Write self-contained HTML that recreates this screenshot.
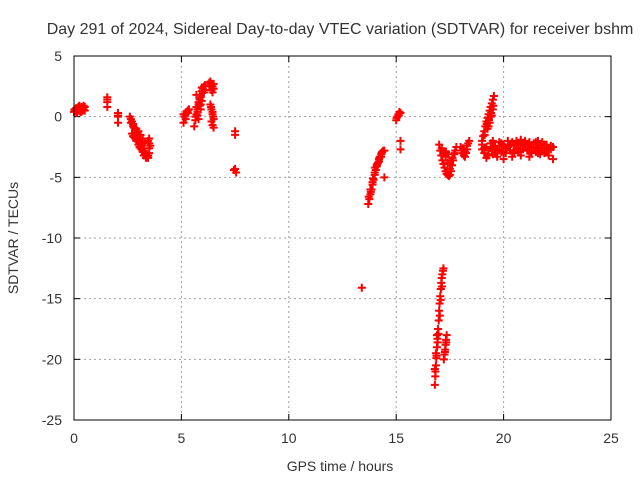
<!DOCTYPE html>
<html><head><meta charset="utf-8"><style>
body{margin:0;background:#fff;}
svg text{font-family:"Liberation Sans",sans-serif;font-size:14px;fill:#333;}
</style></head><body>
<svg id="chart" width="640" height="480">
<text x="340" y="34" text-anchor="middle" style="font-size:16px">Day 291 of 2024, Sidereal Day-to-day VTEC variation (SDTVAR) for receiver bshm</text>
<text x="340" y="471" text-anchor="middle">GPS time / hours</text>
<text x="18" y="238" text-anchor="middle" transform="rotate(-90 18 238)">SDTVAR / TECUs</text>
<g id="grid"></g><g id="ticks"></g><g id="pts"></g>
<rect x="74" y="56" width="537" height="364" fill="none" stroke="#000" stroke-width="1"/>
</svg>
<script>
const xTicks=[0,5,10,15,20,25];
const yTicks=[5,0,-5,-10,-15,-20,-25];
const seriesX=[0,0.05,0.1,0.15,0.2,0.25,0.3,0.35,0.4,0.45,0.5,0.5,0.3,0.1,0.02,0.2,0.4,0.15,0.35,0.25,0.45,
1.55,1.55,1.55,1.55,2.05,2.05,2.05,2.05,
2.6,2.65,2.7,2.75,2.8,2.85,2.9,2.95,3.0,3.05,3.1,3.15,3.2,3.25,3.3,3.35,3.4,3.45,2.7,2.8,2.9,3.0,3.1,3.2,3.3,3.4,2.9,3.0,3.1,3.2,3.3,2.75,2.85,2.95,3.05,3.15,3.25,3.35,3.45,2.65,2.75,2.85,
3.5,3.5,3.5,3.5,3.55,3.45,
5.1,5.15,5.2,5.25,5.3,5.35,5.1,5.2,5.3,
5.6,5.65,5.7,5.75,5.8,5.85,5.9,5.95,6.0,6.05,6.1,5.7,5.8,5.9,6.0,5.75,5.85,5.95,5.8,5.9,5.65,5.75,5.85,5.95,6.05,5.7,5.9,6.1,
6.3,6.35,6.4,6.45,6.4,6.45,6.5,6.35,6.4,6.45,6.5,6.4,6.45,6.5,6.45,6.3,6.4,6.5,6.38,6.48,
7.5,7.5,7.5,7.55,7.45,
13.4,
13.7,13.75,13.8,13.85,13.9,13.95,14.0,14.05,14.1,14.15,14.2,14.25,14.3,14.35,14.4,14.45,13.8,13.9,14.0,14.1,14.2,14.3,14.45,13.72,13.82,13.92,14.02,14.12,14.22,14.32,
15.0,15.05,15.1,15.15,15.2,15.2,15.2,15.02,15.12,
16.8,16.82,16.85,16.88,16.9,16.92,16.95,16.98,17.0,17.02,17.05,17.08,17.1,17.12,17.15,17.18,17.2,16.8,16.85,16.9,16.83,16.87,16.93,16.97,17.03,17.07,17.13,
17.22,17.25,17.28,17.3,17.32,17.35,17.27,17.33,
17.0,17.05,17.1,17.15,17.2,17.25,17.3,17.35,17.4,17.45,17.5,17.55,17.6,17.65,17.7,17.75,17.8,17.3,17.4,17.5,17.6,17.12,17.22,17.32,17.42,17.52,17.62,17.72,
18.0,18.05,18.1,18.15,18.2,18.25,18.3,18.35,18.4,18.3,18.1,18.2,
19.0,19.05,19.1,19.15,19.2,19.25,19.3,19.35,19.4,19.45,19.5,19.55,19.3,19.4,19.5,19.12,19.22,19.32,19.42,19.52,19.25,19.35,19.45,
19.0,19.2,19.4,19.6,19.8,20.0,20.2,20.4,20.6,20.8,21.0,21.2,21.4,21.6,21.8,22.0,22.2,22.3,
19.1,19.3,19.5,19.7,19.9,20.1,20.3,20.5,20.7,20.9,21.1,21.3,21.5,21.7,21.9,22.1,22.3,
19.0,19.4,19.8,20.2,20.6,21.0,21.4,21.8,22.2,20.0,20.4,20.8,21.2,21.6,
19.1,19.3,19.5,19.7,19.9,20.1,20.3,20.5,20.7,20.9,21.1,21.3,21.5,21.7,21.9,22.1,
19.2,19.6,20.0,20.4,20.8,21.2,21.6,22.0,19.5,19.9,20.3,20.7,21.1,21.5,21.9,22.2];
const seriesY=[0.4,0.5,0.4,0.6,0.5,0.7,0.6,0.8,0.7,0.9,0.8,0.5,0.4,0.7,0.6,0.8,0.5,0.3,0.4,0.9,0.6,
1.6,1.2,0.8,1.4,0.3,0.0,-0.5,0.1,
0.0,-0.2,-0.4,-0.6,-0.9,-1.1,-1.3,-1.6,-1.8,-2.0,-2.2,-2.4,-2.6,-2.8,-3.0,-3.1,-3.3,-3.4,-1.4,-1.7,-2.0,-2.3,-2.6,-2.9,-3.1,-3.3,-1.0,-1.2,-1.5,-1.8,-2.1,-0.8,-1.0,-1.9,-2.5,-2.7,-3.2,-3.4,-3.2,-0.5,-1.6,-1.8,
-1.8,-2.2,-2.6,-3.0,-2.4,-2.0,
-0.5,0.0,0.2,0.4,0.5,0.6,0.2,-0.2,0.3,
-0.8,-0.3,0.2,0.6,1.0,1.4,1.8,2.1,2.3,2.5,2.6,0.8,1.2,1.6,2.0,0.4,0.9,1.3,-0.2,0.6,0.0,0.1,1.6,2.4,2.0,1.8,1.0,2.2,
2.8,2.9,2.7,2.5,2.2,2.0,2.3,1.0,0.6,0.2,-0.2,-0.4,-0.7,-0.9,0.4,2.5,2.6,2.7,0.8,0.0,
-1.2,-1.5,-4.3,-4.6,-4.4,
-14.1,
-7.2,-6.8,-6.4,-6.0,-5.6,-5.2,-4.8,-4.4,-4.1,-3.8,-3.5,-3.3,-3.1,-2.9,-2.8,-2.8,-6.0,-5.4,-4.6,-4.0,-3.7,-3.3,-5.0,-6.6,-6.2,-5.1,-4.2,-3.9,-3.4,-3.0,
-0.3,0.0,0.2,0.4,0.3,-2.0,-2.7,-0.1,0.1,
-22.1,-21.4,-20.5,-19.7,-19.0,-18.3,-17.5,-16.8,-16.0,-15.4,-14.8,-14.2,-13.7,-13.3,-13.0,-12.7,-12.5,-20.8,-19.5,-18.0,-21.0,-19.9,-18.6,-17.9,-16.4,-15.1,-14.0,
-20.0,-19.6,-19.2,-18.8,-18.4,-18.0,-19.4,-18.6,
-2.3,-2.8,-3.2,-3.6,-3.9,-4.2,-4.5,-4.7,-4.8,-4.9,-4.8,-4.5,-4.0,-3.6,-3.1,-2.8,-2.5,-3.3,-3.8,-4.3,-3.6,-2.6,-3.0,-2.9,-3.1,-3.6,-3.4,-3.0,
-2.5,-2.8,-3.0,-3.2,-3.3,-3.0,-2.7,-2.2,-2.0,-2.4,-2.6,-2.9,
-2.0,-1.6,-1.2,-0.8,-0.4,-0.1,0.2,0.5,0.8,1.1,1.4,1.7,-0.8,0.0,0.6,-1.5,-0.6,-0.3,0.3,0.9,-1.0,-0.5,0.1,
-2.3,-2.5,-2.2,-2.4,-2.1,-2.3,-2.0,-2.1,-2.0,-1.9,-2.0,-2.1,-2.2,-2.0,-2.1,-2.3,-2.4,-2.5,
-3.0,-3.2,-3.1,-3.3,-2.9,-3.0,-2.8,-3.0,-2.9,-2.7,-2.8,-3.0,-2.9,-3.1,-3.0,-3.2,-3.5,
-2.7,-2.6,-2.8,-2.5,-2.6,-2.4,-2.5,-2.6,-2.7,-3.5,-3.3,-3.2,-3.3,-3.0,
-2.6,-2.8,-2.5,-2.7,-2.4,-2.6,-2.3,-2.4,-2.3,-2.2,-2.4,-2.5,-2.6,-2.4,-2.6,-2.7,
-3.4,-3.0,-2.9,-3.0,-2.7,-2.6,-2.8,-2.8,-2.0,-2.2,-2.4,-2.2,-2.3,-2.1,-2.3,-2.6];
const X=v=>74+(v/25)*537, Y=v=>56+(5-v)/30*364;
const NS='http://www.w3.org/2000/svg';
const g=document.getElementById('grid'),t=document.getElementById('ticks'),p=document.getElementById('pts');
function mk(tag,parent,attrs){const e=document.createElementNS(NS,tag);for(const k in attrs)e.setAttribute(k,attrs[k]);parent.appendChild(e);return e;}
xTicks.forEach(v=>{const x=X(v);
 if(v>0&&v<25){const l=mk('line',g,{x1:x,x2:x,y1:56,y2:420,stroke:'#a0a0a0','stroke-dasharray':'2,3'});
 
 }
 mk('line',t,{x1:x,x2:x,y1:420,y2:414,stroke:'#000'});mk('line',t,{x1:x,x2:x,y1:56,y2:62,stroke:'#000'});
 const tx=mk('text',t,{x:x,y:443,'text-anchor':'middle'});tx.textContent=v;
 
 });
yTicks.forEach(v=>{const y=Y(v);
 if(v<5&&v>-25){const l=mk('line',g,{x1:74,x2:611,y1:y,y2:y,stroke:'#a0a0a0','stroke-dasharray':'2,3'});
 
 }
 mk('line',t,{x1:74,x2:80,y1:y,y2:y,stroke:'#000'});mk('line',t,{x1:611,x2:605,y1:y,y2:y,stroke:'#000'});
 const tx=mk('text',t,{x:62,y:y+5,'text-anchor':'end'});tx.textContent=v;
 
 });
let d='';
seriesX.forEach((v,i)=>{const x=X(v),y=Y(seriesY[i]);d+=`M${x-4},${y}h8M${x},${y-4}v8`;});
const path=mk('path',p,{d:d,stroke:'#ff0000','stroke-width':'2',fill:'none'});


</script>
</body></html>
